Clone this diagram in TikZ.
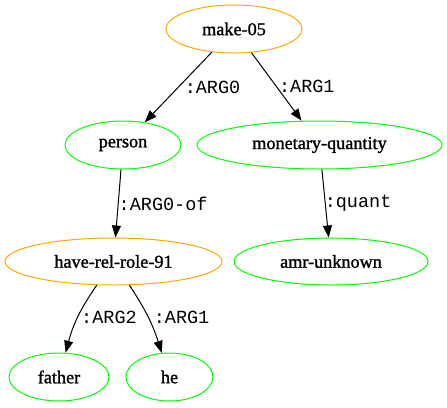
\documentclass[tikz,border=0pt]{standalone}
\usepackage{fontspec}
\setmainfont{Liberation Serif}
\setmonofont{Liberation Mono}
\newfontfamily\labelfont{Liberation Serif}[BoldFont={Liberation Serif}, BoldFeatures={FakeBold=1.3}]
\usetikzlibrary{shapes.geometric,arrows.meta}
\definecolor{gvorange}{RGB}{255,165,0}
\definecolor{gvgreen}{RGB}{0,255,0}
\begin{document}
\begin{tikzpicture}[x=1pt, y=-1pt, line width=1pt, >={Triangle[length=12pt,width=9pt]},
  concept/.style={ellipse, draw=gvorange, inner sep=0pt, minimum height=48pt, font=\labelfont\bfseries\fontsize{18.2}{20}\selectfont},
  thing/.style={concept, draw=gvgreen},
  role/.style={font=\ttfamily\fontsize{18.5}{20}\selectfont, inner sep=1pt}]
\useasboundingbox (0,0) rectangle (447,407);
\node[concept, minimum width=136pt] (N_0_0) at (234,29) {make-05};
\node[thing, minimum width=116pt] (N_1_0) at (123,145) {person};
\draw[->] (N_0_0) -- (N_1_0) node[midway, right=5pt, role] {:ARG0};
\node[thing, minimum width=245pt] (N_1_1) at (319.5,145) {monetary-quantity};
\draw[->] (N_0_0) -- (N_1_1) node[midway, right=1pt, role] {:ARG1};
\node[concept, minimum width=217pt, minimum height=47pt] (N_2_0) at (113.5,261.5) {have-rel-role-91};
\draw[->] (N_1_0) -- (N_2_0) node[midway, right=-1pt, role] {:ARG0-of};
\node[thing, minimum width=194pt, minimum height=47pt] (N_2_1) at (331,261.5) {amr-unknown};
\draw[->] (N_1_1) -- (N_2_1) node[midway, right=-2pt, role] {:quant};
\node[thing, minimum width=100pt] (N_3_0) at (59,377) {father};
\draw[->] (N_2_0) to[bend right=10] node[midway, right=2pt, role] {:ARG2} (N_3_0);
\node[thing, minimum width=87pt] (N_3_1) at (169.5,377) {he};
\draw[->] (N_2_0) to[bend left=8] node[midway, right=4pt, role] {:ARG1} (N_3_1);
\end{tikzpicture}
\end{document}
